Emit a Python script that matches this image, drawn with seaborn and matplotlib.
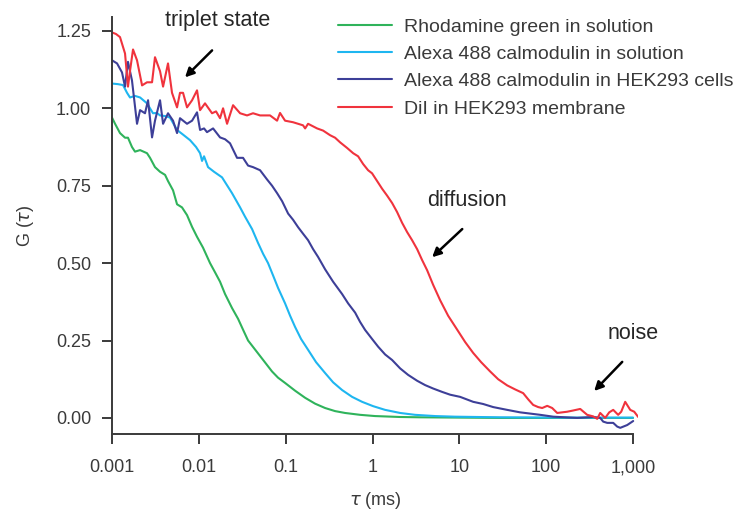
import numpy as np
import pandas as pd
import matplotlib
matplotlib.use("Agg")
import matplotlib.pyplot as plt
import seaborn as sns

# ---- data (log10 of tau in ms, and G(tau)) ----
green_logt = [-3.000, -2.965, -2.908, -2.850, -2.816, -2.770, -2.735, -2.677, -2.597, -2.562,
              -2.505, -2.447, -2.389, -2.355, -2.297, -2.251, -2.194, -2.136, -2.078, -2.021,
              -1.952, -1.871, -1.813, -1.756, -1.698, -1.618, -1.548, -1.491, -1.433, -1.364,
              -1.295, -1.226, -1.157, -1.088, -1.007, -0.892, -0.776, -0.661, -0.546, -0.431,
              -0.316, -0.143, 0.030, 0.318, 0.548, 1.009, 1.470, 2.161, 3.000]
green_g = [0.97, 0.95, 0.92, 0.905, 0.905, 0.875, 0.86, 0.865, 0.855, 0.84,
           0.81, 0.795, 0.785, 0.765, 0.735, 0.69, 0.68, 0.655, 0.617, 0.585,
           0.55, 0.50, 0.47, 0.44, 0.40, 0.355, 0.32, 0.285, 0.25, 0.225,
           0.20, 0.175, 0.15, 0.13, 0.113, 0.088, 0.065, 0.046, 0.032, 0.022,
           0.016, 0.010, 0.006, 0.003, 0.002, 0.001, 0.0, 0.0, 0.0]

cyan_logt = [-3.000, -2.931, -2.873, -2.827, -2.793, -2.735, -2.677, -2.597, -2.528, -2.482,
             -2.447, -2.389, -2.332, -2.251, -2.182, -2.101, -2.032, -1.986, -1.963, -1.940,
             -1.894, -1.825, -1.733, -1.618, -1.525, -1.468, -1.387, -1.318, -1.260, -1.203,
             -1.145, -1.088, -1.007, -0.949, -0.892, -0.823, -0.742, -0.650, -0.546, -0.454,
             -0.350, -0.235, -0.120, 0.007, 0.145, 0.318, 0.490, 0.721, 0.951, 1.470,
             2.161, 3.000]
cyan_g = [1.08, 1.078, 1.075, 1.05, 1.035, 1.04, 1.035, 1.016, 0.984, 0.985,
          0.977, 0.975, 0.97, 0.93, 0.915, 0.897, 0.875, 0.855, 0.83, 0.845,
          0.81, 0.795, 0.777, 0.726, 0.68, 0.65, 0.61, 0.565, 0.53, 0.50,
          0.46, 0.42, 0.37, 0.33, 0.294, 0.255, 0.22, 0.18, 0.145, 0.115,
          0.09, 0.068, 0.052, 0.038, 0.026, 0.016, 0.010, 0.006, 0.004, 0.002,
          0.001, 0.001]

navy_logt = [-3.000, -2.942, -2.885, -2.850, -2.816, -2.770, -2.712, -2.677, -2.620, -2.585,
             -2.539, -2.505, -2.447, -2.412, -2.355, -2.297, -2.251, -2.217, -2.136, -2.078,
             -2.021, -1.986, -1.940, -1.906, -1.836, -1.756, -1.698, -1.641, -1.560, -1.491,
             -1.433, -1.376, -1.295, -1.214, -1.157, -1.099, -1.041, -0.972, -0.915, -0.857,
             -0.800, -0.742, -0.684, -0.627, -0.546, -0.454, -0.350, -0.281, -0.200, -0.143,
             -0.085, -0.005, 0.065, 0.145, 0.226, 0.318, 0.410, 0.514, 0.606, 0.698,
             0.802, 0.894, 1.009, 1.159, 1.274, 1.390, 1.551, 1.700, 1.816, 1.931,
             2.081, 2.219, 2.357, 2.541, 2.622, 2.657, 2.703, 2.772, 2.818, 2.853,
             2.933, 3.002]
navy_g = [1.155, 1.145, 1.116, 1.07, 1.15, 1.09, 0.95, 0.994, 0.984, 1.026,
          0.906, 0.96, 1.026, 0.95, 0.984, 0.96, 0.92, 0.968, 0.95, 0.96,
          0.987, 0.93, 0.935, 0.923, 0.935, 0.906, 0.90, 0.887, 0.84, 0.84,
          0.815, 0.81, 0.80, 0.77, 0.75, 0.726, 0.70, 0.66, 0.64, 0.616,
          0.595, 0.574, 0.545, 0.52, 0.48, 0.44, 0.40, 0.37, 0.34, 0.31,
          0.284, 0.255, 0.23, 0.205, 0.187, 0.16, 0.139, 0.12, 0.106, 0.095,
          0.084, 0.075, 0.068, 0.052, 0.045, 0.035, 0.026, 0.018, 0.014, 0.010,
          0.004, 0.002, 0.0, 0.003, 0.0, -0.012, -0.016, -0.016, -0.028, -0.032,
          -0.023, -0.010]

red_logt = [-3.000, -2.954, -2.908, -2.850, -2.816, -2.793, -2.758, -2.712, -2.654, -2.597,
            -2.539, -2.505, -2.447, -2.412, -2.355, -2.309, -2.251, -2.217, -2.182, -2.136,
            -2.078, -2.021, -1.986, -1.929, -1.848, -1.802, -1.756, -1.721, -1.675, -1.606,
            -1.525, -1.445, -1.376, -1.295, -1.180, -1.099, -1.065, -1.007, -0.915, -0.800,
            -0.776, -0.742, -0.638, -0.569, -0.488, -0.431, -0.373, -0.293, -0.223, -0.166,
            -0.108, -0.051, -0.005, 0.053, 0.111, 0.168, 0.226, 0.283, 0.341, 0.399,
            0.456, 0.514, 0.571, 0.629, 0.698, 0.779, 0.871, 0.975, 1.067, 1.159,
            1.251, 1.355, 1.447, 1.551, 1.643, 1.735, 1.793, 1.850, 1.908, 1.954,
            2.012, 2.069, 2.127, 2.184, 2.242, 2.311, 2.392, 2.472, 2.541, 2.588,
            2.622, 2.680, 2.726, 2.772, 2.829, 2.864, 2.910, 2.968, 3.014, 3.060]
red_g = [1.245, 1.24, 1.23, 1.177, 1.07, 1.12, 1.19, 1.155, 1.074, 1.084,
         1.084, 1.165, 1.12, 1.07, 1.145, 1.05, 1.003, 1.05, 1.05, 1.003,
         1.026, 1.058, 0.994, 1.016, 0.984, 0.99, 0.968, 1.0, 0.95, 1.01,
         0.984, 0.977, 0.984, 0.977, 0.977, 0.96, 0.985, 0.96, 0.955, 0.945,
         0.935, 0.95, 0.935, 0.928, 0.913, 0.905, 0.89, 0.872, 0.855, 0.845,
         0.82, 0.80, 0.79, 0.765, 0.74, 0.718, 0.694, 0.665, 0.63, 0.60,
         0.574, 0.545, 0.51, 0.477, 0.43, 0.38, 0.33, 0.285, 0.245, 0.21,
         0.18, 0.15, 0.125, 0.105, 0.092, 0.08, 0.06, 0.042, 0.035, 0.032,
         0.039, 0.032, 0.016, 0.018, 0.02, 0.024, 0.029, 0.01, 0.005, -0.003,
         0.016, 0.0, 0.018, 0.026, 0.01, 0.02, 0.052, 0.026, 0.02, 0.003]

series_names = ["Rhodamine green in solution",
                "Alexa 488 calmodulin in solution",
                "Alexa 488 calmodulin in HEK293 cells",
                "DiI in HEK293 membrane"]
series_colors = ["#2fb35b", "#1eb6f0", "#3d3f98", "#f0333d"]
x_ticks = [0.001, 0.01, 0.1, 1, 10, 100, 1000]
x_tick_labels = ["0.001", "0.01", "0.1", "1", "10", "100", "1,000"]
y_ticks = [0.00, 0.25, 0.50, 0.75, 1.00, 1.25]

frames = []
for name, lt, g in zip(series_names,
                       [green_logt, cyan_logt, navy_logt, red_logt],
                       [green_g, cyan_g, navy_g, red_g]):
    frames.append(pd.DataFrame({"tau": 10 ** np.array(lt), "G": g, "series": name}))
df = pd.concat(frames, ignore_index=True)

sns.set_style("ticks")
plt.rcParams["font.family"] = ["Liberation Sans", "DejaVu Sans"]

fig = plt.figure(figsize=(7.34, 5.14), dpi=100)
ax = fig.add_axes([0.1526, 0.1556, 0.717, 0.8114])

sns.lineplot(data=df, x="tau", y="G", hue="series", hue_order=series_names,
             palette=series_colors, sort=False, estimator=None, units="series",
             linewidth=1.5, ax=ax, legend=True)

ax.set_xscale("log")
ax.set_xlim(1e-3, 1150)
ax.set_ylim(-0.052, 1.295)
ax.set_xticks(x_ticks)
ax.set_xticklabels(x_tick_labels)
ax.xaxis.set_minor_locator(matplotlib.ticker.NullLocator())
ax.set_yticks(y_ticks)
ax.set_yticklabels([f"{v:.2f}" for v in y_ticks])

for s in ["top", "right"]:
    ax.spines[s].set_visible(False)
for s in ["left", "bottom"]:
    ax.spines[s].set_color("#3a3a3a")
    ax.spines[s].set_linewidth(1.4)
ax.spines["bottom"].set_bounds(1e-3, 1e3)

ax.tick_params(axis="both", which="major", length=7, width=1.4, color="#3a3a3a",
               labelcolor="#3a3a3a", labelsize=13)
ax.tick_params(axis="x", pad=11)
ax.tick_params(axis="y", pad=8)

ax.set_xlabel(r"$\tau$ (ms)", fontsize=13, color="#3a3a3a", labelpad=10)
ax.set_ylabel(r"G ($\tau$)", fontsize=13, color="#3a3a3a", labelpad=14)

handles, labels = ax.get_legend_handles_labels()
ax.legend(handles, labels, loc="upper left", bbox_to_anchor=(338 / 734, 1 - 18 / 514),
          bbox_transform=fig.transFigure, frameon=False, fontsize=14,
          handlelength=2.8, handletextpad=0.6, labelspacing=0.5, borderaxespad=0,
          borderpad=0, labelcolor="#3a3a3a")

akw = dict(fontsize=15, color="black", ha="center", va="center",
           arrowprops=dict(arrowstyle="-|>", color="black", lw=1.8, mutation_scale=13,
                           shrinkA=0, shrinkB=0))
ax.annotate("", xy=(0.00693, 1.10), xytext=(0.0142, 1.187), **akw)
ax.text(0.0166, 1.284, "triplet state", fontsize=15.5, ha="center", va="center")
ax.annotate("", xy=(4.86, 0.519), xytext=(10.8, 0.61), **akw)
ax.text(12.3, 0.703, "diffusion", fontsize=15.5, ha="center", va="center")
ax.annotate("", xy=(357, 0.087), xytext=(751, 0.181), **akw)
ax.text(1005, 0.274, "noise", fontsize=15.5, ha="center", va="center")

fig.savefig("out.png", dpi=100)
